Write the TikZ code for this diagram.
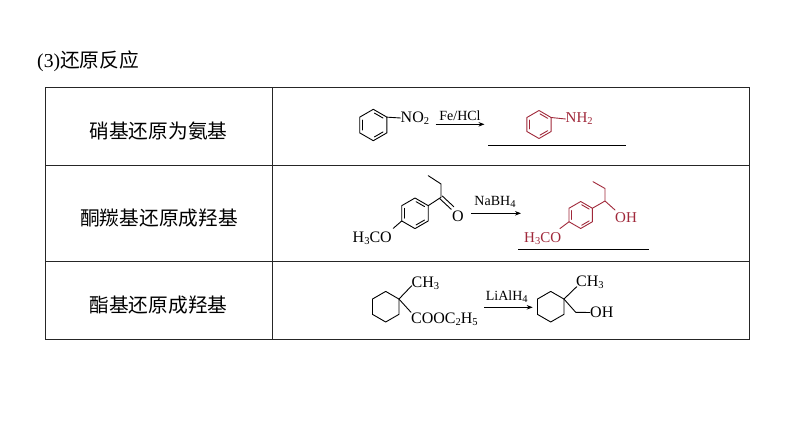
\documentclass[tikz,border=0pt]{standalone}
\usepackage{fontspec}
\setmainfont{Liberation Serif}
\newfontfamily\cjk{Noto Sans CJK SC}
\usetikzlibrary{calc,arrows.meta}
\definecolor{prodred}{HTML}{A0283A}
\tikzset{
  x=1pt,y=-1pt,
  frameline/.style={line width=1pt,draw=black!85},
  bondline/.style={line width=0.9pt,line cap=round,line join=round},
  answerline/.style={line width=0.9pt,draw=black},
  rxnarrow/.style={line width=0.8pt,-{Stealth[length=6pt,width=4.5pt]}},
  chemtext/.style={inner sep=0pt,font=\fontsize{16}{16}\selectfont},
  redtext/.style={inner sep=0pt,text=prodred,font=\fontsize{15}{15}\selectfont},
  reagent/.style={inner sep=0pt,font=\fontsize{14}{14}\selectfont},
  rowlabel/.style={inner sep=0pt,font=\fontsize{19.7}{20}\selectfont\cjk},
}
\newcommand{\sbs}[1]{\raisebox{-0.3ex}{\fontsize{10.5}{11}\selectfont #1}}
\newcommand{\ringbase}[5]{%
  \coordinate (#1) at (#2,#3);
  \foreach \a/\n in {-90/t,-30/ur,30/lr,90/b,150/ll,210/ul}{\coordinate (#1\n) at ($(#1)+(\a:#4)$);}
  \draw[bondline,#5] (#1t)--(#1ur)--(#1lr)--(#1b)--(#1ll)--(#1ul)--cycle;}
\newcommand{\benzene}[5]{%
  \ringbase{#1}{#2}{#3}{#4}{#5}
  \foreach \p/\q in {t/ur,lr/b,ll/ul}{
    \coordinate (i1) at ($(#1)!0.8!(#1\p)$);
    \coordinate (i2) at ($(#1)!0.8!(#1\q)$);
    \draw[bondline,#5] ($(i1)!0.1!(i2)$) -- ($(i2)!0.1!(i1)$);}}
\begin{document}
\begin{tikzpicture}
\useasboundingbox (0,0) rectangle (794,447);
\fill[white] (0,0) rectangle (794,447);
% title
\node[inner sep=0pt,anchor=west,font=\fontsize{19.7}{20}\selectfont] (title) at (37,61.5) {(3){\cjk 还原反应}};
% table
\draw[frameline] (45,87) rectangle (749,339);
\coordinate (hAl) at (45,165); \coordinate (hAr) at (749,165);
\coordinate (hBl) at (45,261); \coordinate (hBr) at (749,261);
\coordinate (vT) at (272,87); \coordinate (vB) at (272,339);
\draw[frameline] (hAl)--(hAr) (hBl)--(hBr) (vT)--(vB);
\node[rowlabel] (rowA) at (158.5,131) {硝基还原为氨基};
\node[rowlabel] (rowB) at (159,218) {酮羰基还原成羟基};
\node[rowlabel] (rowC) at (158.5,305) {酯基还原成羟基};
% --- row 1
\benzene{ra}{373.3}{125}{15.7}{black}
\node[chemtext,anchor=west] (no2) at (400.5,118) {NO\sbs{2}};
\draw[bondline] (raur)--(no2.west);
\coordinate (a1s) at (435.7,124.3); \coordinate (a1e) at (484.5,124.3);
\draw[rxnarrow] (a1s)--(a1e);
\node[reagent] (fe) at (460,116) {Fe/HCl};
\benzene{rb}{539}{124.5}{14}{prodred}
\node[redtext,anchor=west] (nh2) at (565.5,119) {NH\sbs{2}};
\draw[bondline,prodred] (rbur)--(nh2.west);
\coordinate (l1s) at (488.3,145.3); \coordinate (l1e) at (626,145.3);
\draw[answerline] (l1s)--(l1e);
% --- row 2
\benzene{rc}{415}{213.3}{15.3}{black}
\coordinate (cc) at (441,197.3); \coordinate (cd) at (441,184); \coordinate (ce) at (428.3,175.7);
\draw[bondline] (rcur)--(cc)--(cd)--(ce);
\node[chemtext] (oa) at (458,216) {O};
\coordinate (oe) at (452.5,208);
\draw[bondline] ($(cc)+(1.3,-1.3)$)--($(oe)+(1.3,-1.3)$) ($(cc)+(-1.3,1.3)$)--($(oe)+(-1.3,1.3)$);
\node[chemtext,anchor=west] (mea) at (352.5,238) {H\sbs{3}CO};
\coordinate (mc) at (393.3,228.3);
\draw[bondline] (rcll)--(mc);
\coordinate (a2s) at (471,213.3); \coordinate (a2e) at (521,213.3);
\draw[rxnarrow] (a2s)--(a2e);
\node[reagent] (nab) at (495,202) {NaBH\sbs{4}};
\benzene{rd}{580.7}{215}{13.5}{prodred}
\coordinate (dc) at (605,201); \coordinate (dd) at (605,188.5); \coordinate (de) at (593,181.7);
\coordinate (do) at (615,210);
\draw[bondline,prodred] (rdur)--(dc)--(dd)--(de) (dc)--(do);
\node[redtext,anchor=west] (oh) at (615,218) {OH};
\node[redtext,anchor=west] (meb) at (524,239) {H\sbs{3}CO};
\coordinate (dm) at (560,228.5);
\draw[bondline,prodred] (rdll)--(dm);
\coordinate (l2s) at (518.3,249.3); \coordinate (l2e) at (649,249.3);
\draw[answerline] (l2s)--(l2e);
% --- row 3
\ringbase{re}{385.7}{306.7}{15.3}{black}
\node[chemtext,anchor=west] (ch3a) at (411.5,283) {CH\sbs{3}};
\node[chemtext,anchor=west] (coo) at (411,319) {COOC\sbs{2}H\sbs{5}};
\coordinate (ea) at (411.7,285.7); \coordinate (eb) at (411,312.3);
\draw[bondline] (reur)--(ea) (reur)--(eb);
\coordinate (a3s) at (484,307.3); \coordinate (a3e) at (532.7,307.3);
\draw[rxnarrow] (a3s)--(a3e);
\node[reagent] (lia) at (506.7,297) {LiAlH\sbs{4}};
\ringbase{rf}{550.7}{306.7}{15.3}{black}
\node[chemtext,anchor=west] (ch3b) at (576,282) {CH\sbs{3}};
\node[chemtext,anchor=west] (ohb) at (590,312.5) {OH};
\coordinate (fa) at (576.7,286.7); \coordinate (fb) at (575.7,312.3);
\draw[bondline] (rfur)--(fa) (rfur)--(fb)--(ohb.west);
\end{tikzpicture}
\end{document}
